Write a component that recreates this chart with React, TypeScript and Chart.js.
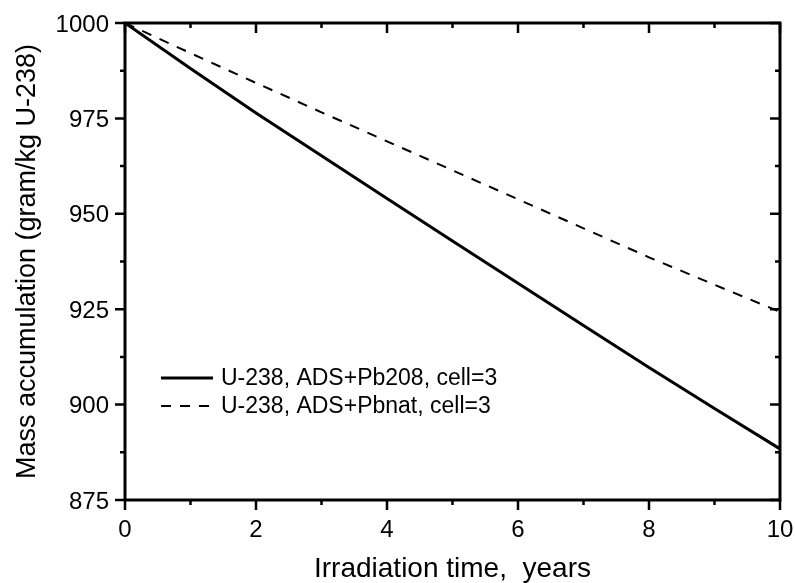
import React, { useEffect, useRef } from "react";
import { Chart, registerables } from "chart.js";

Chart.register(...registerables);

const years = [0, 1, 2, 3, 4, 5, 6, 7, 8, 9, 10];
const pb208 = [1000, 988.1, 976.4, 965.2, 954.0, 942.9, 931.8, 920.7, 909.7, 899.0, 888.4];
const pbnat = [1000, 992.1, 984.3, 976.6, 969.0, 961.4, 953.8, 946.2, 938.6, 931.4, 924.3];
const seriesLabels = ["U-238, ADS+Pb208, cell=3", "U-238, ADS+Pbnat, cell=3"];
const xTicks = [0, 2, 4, 6, 8, 10];
const yTicks = [875, 900, 925, 950, 975, 1000];
const xTitle = "Irradiation time,  years";
const yTitle = "Mass accumulation (gram/kg U-238)";

const FONT = "'Liberation Sans', Arial, sans-serif";

const framePlugin = {
  id: "frame",
  afterDraw(chart: any) {
    const { ctx, chartArea: a, scales } = chart;
    const xs = scales.x;
    const ys = scales.y;
    ctx.save();
    ctx.strokeStyle = "#000";
    ctx.fillStyle = "#000";
    ctx.lineCap = "butt";
    // ticks
    ctx.lineWidth = 2.5;
    const major = 10;
    const minor = 5;
    for (let v = 0; v <= 10; v += 1) {
      const px = xs.getPixelForValue(v);
      const len = v % 2 === 0 ? major : minor;
      ctx.beginPath();
      ctx.moveTo(px, a.bottom);
      ctx.lineTo(px, a.bottom + len);
      ctx.moveTo(px, a.top);
      ctx.lineTo(px, a.top + len);
      ctx.stroke();
    }
    for (let v = 875; v <= 1000; v += 12.5) {
      const py = ys.getPixelForValue(v);
      const len = (v - 875) % 25 === 0 ? major : minor;
      ctx.beginPath();
      ctx.moveTo(a.left, py);
      ctx.lineTo(a.left - len, py);
      ctx.moveTo(a.right, py);
      ctx.lineTo(a.right - len, py);
      ctx.stroke();
    }
    // frame
    ctx.lineWidth = 3;
    ctx.strokeRect(a.left, a.top, a.right - a.left, a.bottom - a.top);
    // tick labels
    ctx.font = "24px " + FONT;
    ctx.textBaseline = "alphabetic";
    ctx.textAlign = "center";
    xTicks.forEach((v) => {
      ctx.fillText(String(v), xs.getPixelForValue(v), a.bottom + 37);
    });
    ctx.textAlign = "right";
    yTicks.forEach((v) => {
      ctx.fillText(String(v), a.left - 16, ys.getPixelForValue(v) + 8.5);
    });
    // axis titles
    ctx.font = "28px " + FONT;
    ctx.textAlign = "center";
    ctx.fillText(xTitle, (a.left + a.right) / 2, 577);
    ctx.save();
    ctx.translate(35, (a.top + a.bottom) / 2);
    ctx.rotate(-Math.PI / 2);
    ctx.font = "27px " + FONT;
    ctx.fillText(yTitle, 0, 0);
    ctx.restore();
    // legend
    const ds = chart.data.datasets;
    const lx0 = a.left + 36;
    const lx1 = a.left + 88;
    const rows = [378, 406];
    ctx.font = "23px " + FONT;
    ctx.textAlign = "left";
    ctx.textBaseline = "middle";
    ds.forEach((d: any, i: number) => {
      const y = rows[i];
      ctx.lineWidth = d.borderWidth;
      ctx.setLineDash(d.borderDash || []);
      ctx.beginPath();
      ctx.moveTo(lx0, y);
      ctx.lineTo(lx1, y);
      ctx.stroke();
      ctx.setLineDash([]);
      ctx.fillText(d.label, lx1 + 8, y + 1);
    });
    ctx.restore();
  },
};

export default function App() {
  const ref = useRef<HTMLCanvasElement | null>(null);
  useEffect(() => {
    document.body.style.margin = "0";
    const chart = new Chart(ref.current as HTMLCanvasElement, {
      type: "line",
      data: {
        labels: years,
        datasets: [
          {
            label: seriesLabels[0],
            data: years.map((x, i) => ({ x, y: pb208[i] })),
            borderColor: "#000",
            borderWidth: 3,
            pointRadius: 0,
            tension: 0,
            fill: false,
          },
          {
            label: seriesLabels[1],
            data: years.map((x, i) => ({ x, y: pbnat[i] })),
            borderColor: "#000",
            borderWidth: 2,
            borderDash: [10, 9],
            pointRadius: 0,
            tension: 0,
            fill: false,
          },
        ],
      },
      options: {
        animation: false,
        responsive: false,
        devicePixelRatio: 1,
        layout: { padding: { top: 23, right: 15, left: 0, bottom: 0 } },
        plugins: { legend: { display: false }, tooltip: { enabled: false } },
        scales: {
          x: {
            type: "linear",
            min: 0,
            max: 10,
            afterFit: (s: any) => {
              s.height = 83;
            },
            grid: { display: false, drawTicks: false },
            border: { display: false },
            ticks: { display: false },
          },
          y: {
            type: "linear",
            min: 875,
            max: 1000,
            afterFit: (s: any) => {
              s.width = 125;
            },
            grid: { display: false, drawTicks: false },
            border: { display: false },
            ticks: { display: false },
          },
        },
      },
      plugins: [framePlugin],
    } as any);
    return () => chart.destroy();
  }, []);
  return (
    <div style={{ position: "absolute", left: 0, top: 0, width: 795, height: 583 }}>
      <canvas ref={ref} width={795} height={583} style={{ display: "block" }} />
    </div>
  );
}
